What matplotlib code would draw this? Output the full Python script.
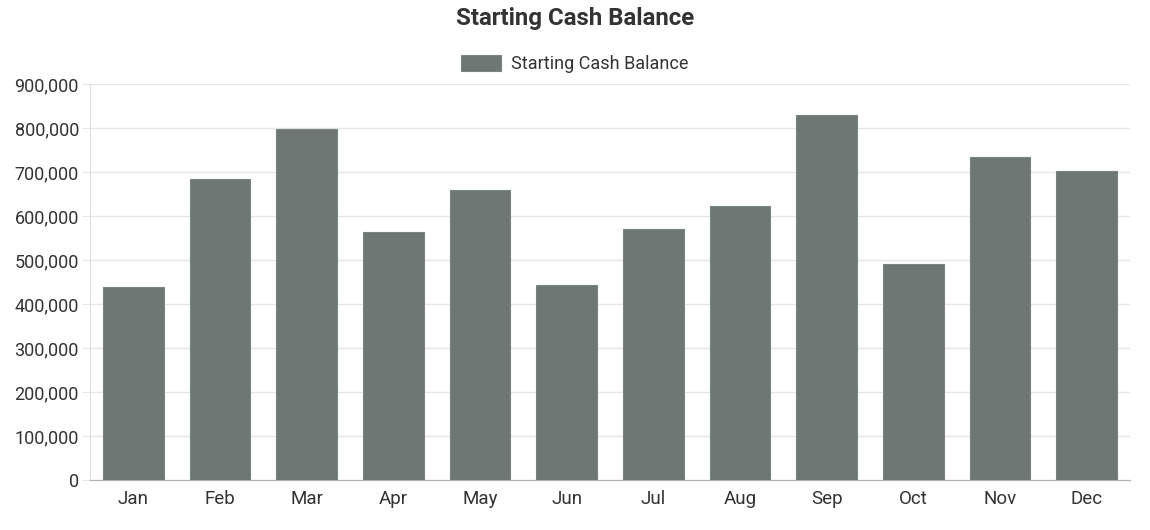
import matplotlib.pyplot as plt
from matplotlib.ticker import FuncFormatter

# data
months = ['Jan', 'Feb', 'Mar', 'Apr', 'May', 'Jun',
          'Jul', 'Aug', 'Sep', 'Oct', 'Nov', 'Dec']
balance = [438600, 684000, 798000, 563600, 659000, 443000,
           570000, 623000, 830000, 491000, 734000, 702000]
yticks = list(range(0, 900001, 100000))

plt.rcParams['font.family'] = ['Roboto', 'DejaVu Sans']

fig = plt.figure(figsize=(11.5, 5.3), dpi=100)
ax = fig.add_axes([90 / 1150, 50 / 530, 1040 / 1150, 396 / 530])

x = range(len(months))
ax.bar(x, balance, width=0.70, color='#6f7774', edgecolor='#7c8481',
       linewidth=0.8, label='Starting Cash Balance', zorder=3)

ax.set_xlim(-0.5, len(months) - 0.5)
ax.set_ylim(0, 900000)
ax.set_yticks(yticks)
ax.yaxis.set_major_formatter(FuncFormatter(lambda v, p: f'{int(v):,}'))
ax.set_xticks(list(x))
ax.set_xticklabels(months)

ax.grid(axis='y', color='#e6e6e6', linewidth=1, zorder=0)
for side in ['top', 'right']:
    ax.spines[side].set_visible(False)
ax.spines['left'].set_color('#e0e0e0')
ax.spines['bottom'].set_color('#b0b0b0')
ax.tick_params(axis='y', length=6, color='#e6e6e6', labelsize=13,
               labelcolor='#333333', pad=2)
ax.tick_params(axis='x', length=0, labelsize=13.5, labelcolor='#333333', pad=7)

fig.text(0.5, 1 - 18 / 530, 'Starting Cash Balance', ha='center', va='center',
         fontsize=17.3, fontweight='bold', color='#333333')
fig.legend(loc='center', bbox_to_anchor=(0.5, 1 - 64 / 530), frameon=False,
           fontsize=13, handlelength=2.2, handleheight=1.0, handletextpad=0.55,
           labelcolor='#333333')

fig.savefig('out.png', dpi=100)
